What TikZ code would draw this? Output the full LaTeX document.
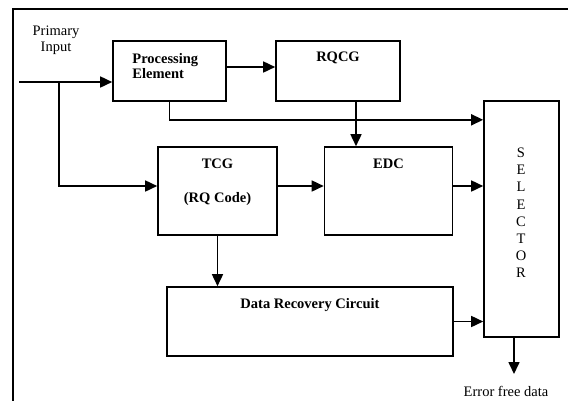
\documentclass[tikz,border=0pt]{standalone}
\usepackage{fontspec}
\setmainfont{Liberation Serif}
\usetikzlibrary{
  arrows.meta,
  calc,
  positioning
}

\tikzset{
  blk/.style={draw,line width=1.6pt,inner sep=0pt},
  arr/.style={-{Triangle[length=12pt,width=11pt]},line width=1.6pt},
  lbl/.style={font=\fontsize{14.5}{16}\selectfont\bfseries,inner sep=0pt},
  txt/.style={font=\fontsize{14.5}{16}\selectfont,inner sep=0pt}
}

\begin{document}
\begin{tikzpicture}[x=1pt,y=-1pt]
      \clip (0, 0) rectangle (568, 400);
      \draw[line width=1.6pt] (13, 9) rectangle (620, 460);

      % blocks
      \node[blk,minimum width=113pt,minimum height=60pt] (pe) at (169.5, 71) {};
      \node[blk,minimum width=124pt,minimum height=60pt] (rqcg) at (338, 71) {};
      \node[blk,minimum width=119pt,minimum height=88pt] (tcg) at (217.5, 191) {};
      \node[blk,minimum width=128pt,minimum height=88pt] (edc) at (388.5, 191) {};
      \node[blk,minimum width=75pt,minimum height=236pt] (sel) at (521.5, 219) {};
      \node[blk,minimum width=286pt,minimum height=69pt] (drc) at (310, 321.5) {};

      % labels
      \node[lbl,align=left,anchor=north west,font=\fontsize{14.5}{15}\selectfont\bfseries] (petxt)
        at ([xshift=20pt,yshift=-13pt]pe.north west) {Processing\\Element};
      \node[lbl] (rqcgtxt) at ([yshift=-18pt]rqcg.north) {RQCG};
      \node[lbl] (tcgtxt) at ([yshift=-18pt]tcg.north) {TCG};
      \node[lbl] (rqtxt) at ([yshift=-53pt]tcg.north) {(RQ Code)};
      \node[lbl] (edctxt) at ([yshift=-18pt]edc.north) {EDC};
      \node[lbl] (drctxt) at ([yshift=-19pt]drc.north) {Data Recovery Circuit};
      \foreach \ch [count=\i] in {S,E,L,E,C,T,O,R}
        \node[txt] (sel-\i) at (521, {153 + 17.1*(\i-1)}) {\ch};
      \node[txt,align=center,font=\fontsize{14.5}{16}\selectfont] (inp) at (56, 40) {Primary\\Input};

      % connectors
      \coordinate (in) at (19, 82);
      \coordinate (br) at (59, 82);
      \coordinate (out) at (514, 374);
      \draw[arr] (in) -- (in -| pe.west);
      \draw[arr] (br) |- ([yshift=5pt]tcg.west);
      \draw[arr] ([yshift=4pt]pe.east) -- ([yshift=4pt]pe.east -| rqcg.west);
      \draw[arr] (pe.south) |- ([yshift=-18pt]pe.south -| sel.west);
      \draw[arr] ([xshift=18pt]rqcg.south) -- ([xshift=18pt]rqcg.south |- edc.north);
      \draw[arr] ([yshift=5pt]tcg.east) -- ([yshift=5pt]edc.west);
      \draw[arr] ([yshift=5pt]edc.east) -- ([yshift=5pt]edc.east -| sel.west);
      \draw[arr] (tcg.south) -- (tcg.south |- drc.north);
      \draw[arr] (drc.east) -- (drc.east -| sel.west);
      \draw[arr] (sel.south -| out) -- (out);
      \node[txt,anchor=north] (errtxt) at ([xshift=-8pt,yshift=-12pt]out) {Error free data};
    \end{tikzpicture}
\end{document}
